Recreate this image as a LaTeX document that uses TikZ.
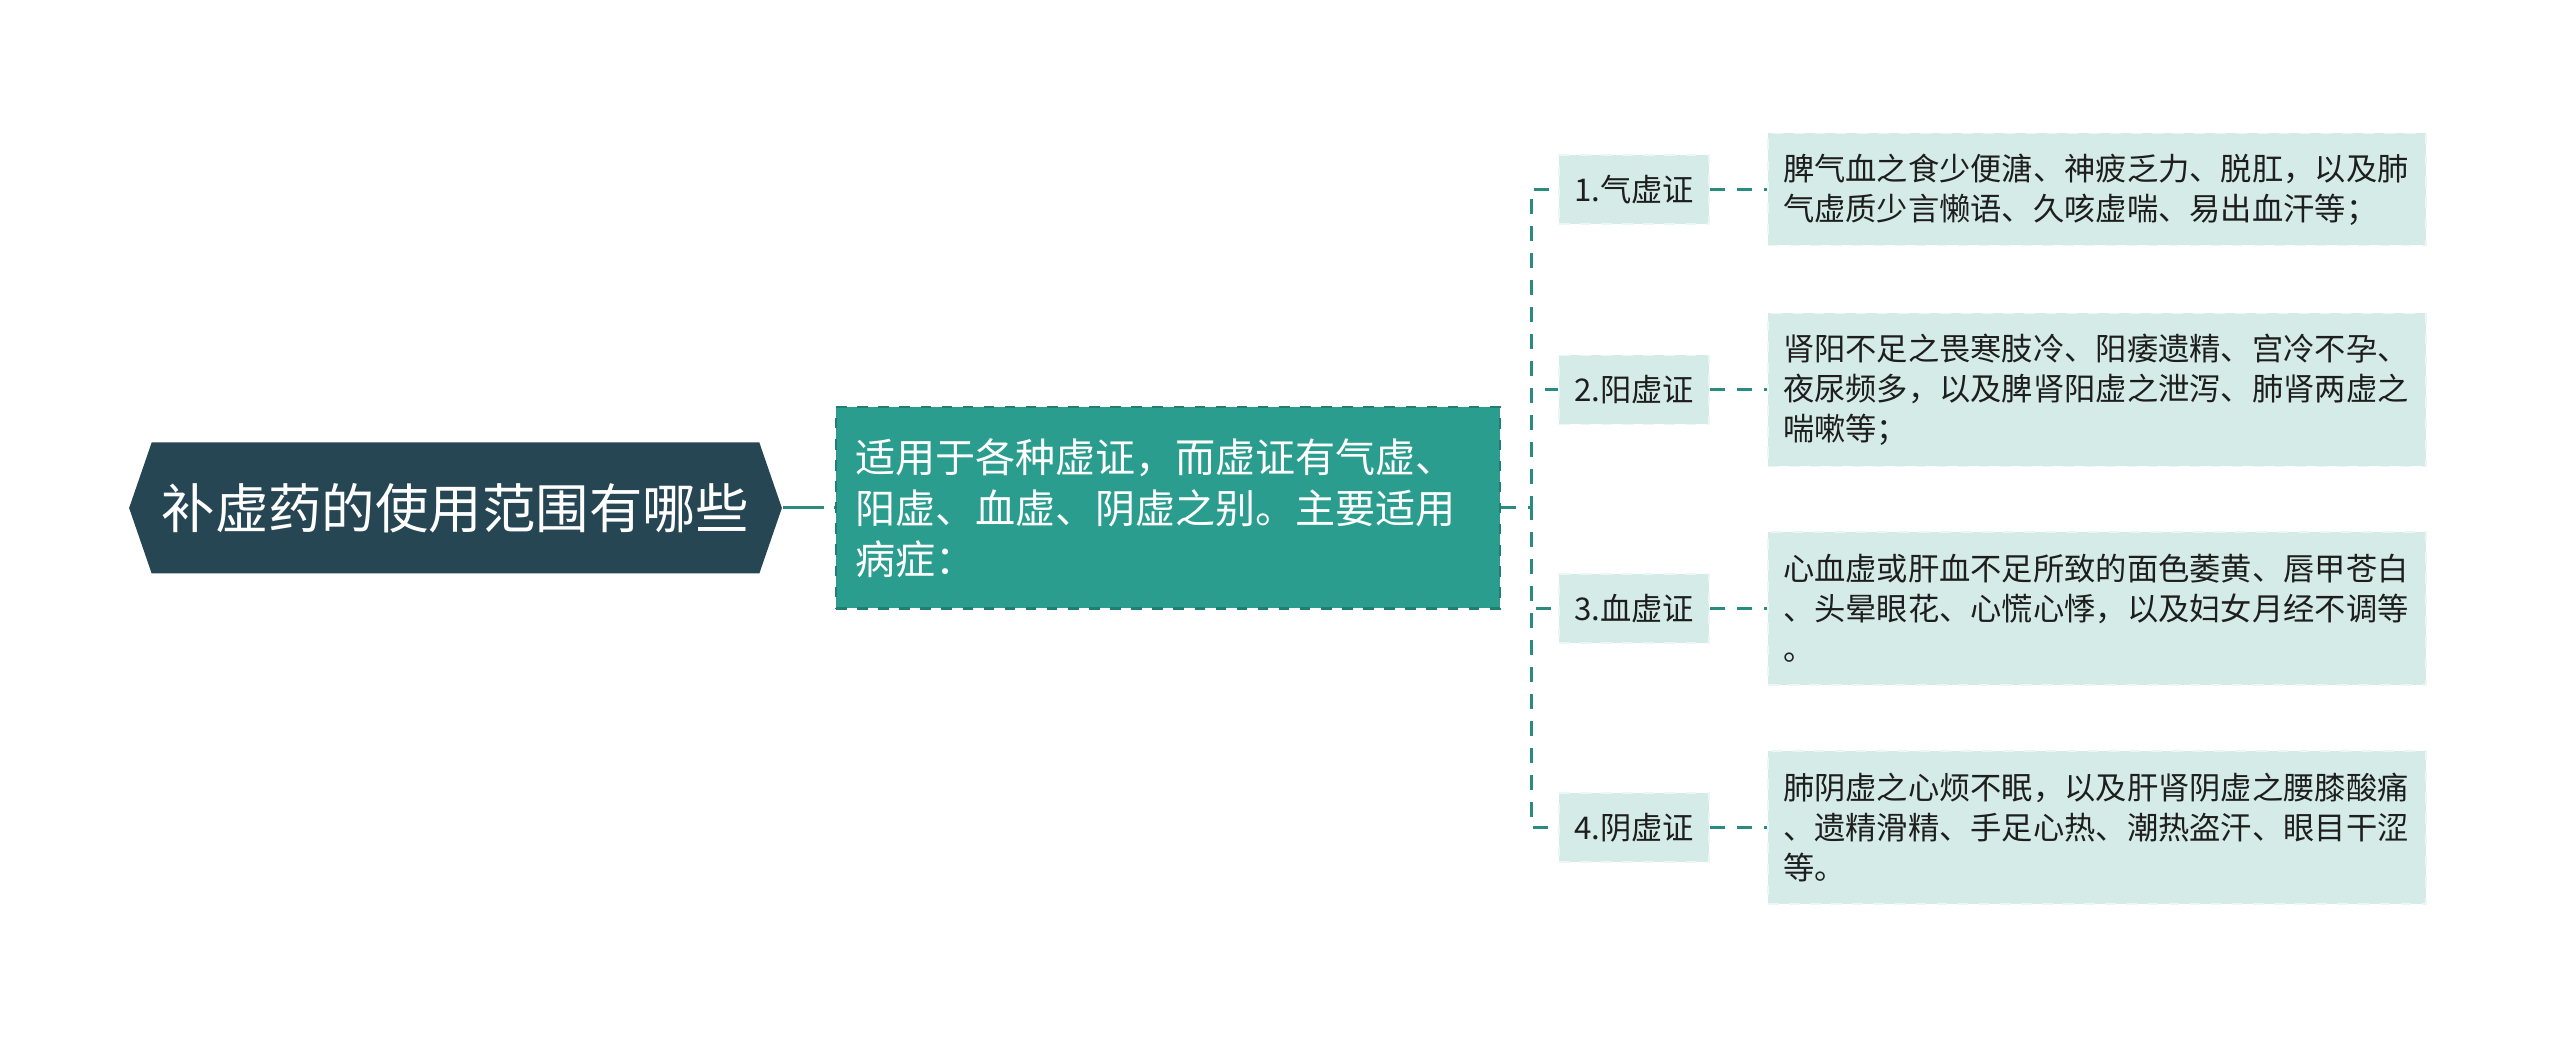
\documentclass[tikz,border=0pt]{standalone}
\usepackage{fontspec}
\setmainfont{Noto Sans CJK SC}
\usetikzlibrary{shapes.symbols}
\definecolor{rootc}{HTML}{264653}
\definecolor{midc}{HTML}{2A9D8F}
\definecolor{midline}{HTML}{1F7F73}
\definecolor{linkc}{HTML}{2A8C80}
\definecolor{leafc}{HTML}{D5EBE8}
\definecolor{leafline}{HTML}{ECF6F4}
\definecolor{inkc}{HTML}{1E1E1E}

\begin{document}
\begin{tikzpicture}[x=1cm,y=1cm,>=latex]
    \tikzstyle{topic}=[signal,signal to=west and east,signal pointer angle=142,fill=rootc,text=white,minimum width=6.49cm,minimum height=1.31cm,inner xsep=0.1cm,font=\fontsize{15.2pt}{18pt}\selectfont]
    \tikzstyle{summary}=[draw=midline,dashed,line width=0.02cm,fill=midc,text=white,align=left,text width=6.26cm,inner xsep=0.19cm,minimum height=2.01cm,font=\fontsize{11.4pt}{14.5pt}\selectfont]
    \tikzstyle{kind}=[draw=leafline,dashed,fill=leafc,text=inkc,minimum width=1.5cm,minimum height=0.69cm,inner xsep=0.1cm,font=\fontsize{8.9pt}{11.4pt}\selectfont]
    \tikzstyle{detail}=[draw=leafline,dashed,fill=leafc,text=inkc,align=left,text width=6.28cm,inner xsep=0.15cm,font=\fontsize{8.9pt}{11.4pt}\selectfont]
    \tikzstyle{link}=[draw=linkc,line width=0.03cm,dash pattern=on 0.15cm off 0.12cm]
    \useasboundingbox (0,0) rectangle (25.6,-10.37);

    \node[topic] (root) at (4.555,-5.08) {补虚药的使用范围有哪些};
    \node[summary] (mid) at (11.68,-5.08) {适用于各种虚证，而虚证有气虚、\\阳虚、血虚、阴虚之别。主要适用\\病症：};

    \node[kind] (qi) at (16.34,-1.895) {1.气虚证};
    \node[kind] (yang) at (16.34,-3.90) {2.阳虚证};
    \node[kind] (xue) at (16.34,-6.085) {3.血虚证};
    \node[kind] (yin) at (16.34,-8.275) {4.阴虚证};

    \node[detail,minimum height=1.12cm] (qitext) at (20.97,-1.895) {脾气血之食少便溏、神疲乏力、脱肛，以及肺\\气虚质少言懒语、久咳虚喘、易出血汗等；};
    \node[detail,minimum height=1.53cm] (yangtext) at (20.97,-3.90) {肾阳不足之畏寒肢冷、阳痿遗精、宫冷不孕、\\夜尿频多，以及脾肾阳虚之泄泻、肺肾两虚之\\喘嗽等；};
    \node[detail,minimum height=1.53cm] (xuetext) at (20.97,-6.085) {心血虚或肝血不足所致的面色萎黄、唇甲苍白\\、头晕眼花、心慌心悸，以及妇女月经不调等\\。};
    \node[detail,minimum height=1.53cm] (yintext) at (20.97,-8.275) {肺阴虚之心烦不眠，以及肝肾阴虚之腰膝酸痛\\、遗精滑精、手足心热、潮热盗汗、眼目干涩\\等。};

    \coordinate (fork) at (15.31,-5.08);

    \draw[link,dash pattern=on 0.41cm off 0.1cm] (root.east) -- (mid.west);
    \draw[link] (mid.east) -- (fork) |- (qi.west);
    \draw[link] (mid.east) -- (fork) |- (yang.west);
    \draw[link] (mid.east) -- (fork) |- (xue.west);
    \draw[link] (mid.east) -- (fork) |- (yin.west);
    \draw[link] (qi) -- (qitext);
    \draw[link] (yang) -- (yangtext);
    \draw[link] (xue) -- (xuetext);
    \draw[link] (yin) -- (yintext);
\end{tikzpicture}
\end{document}
